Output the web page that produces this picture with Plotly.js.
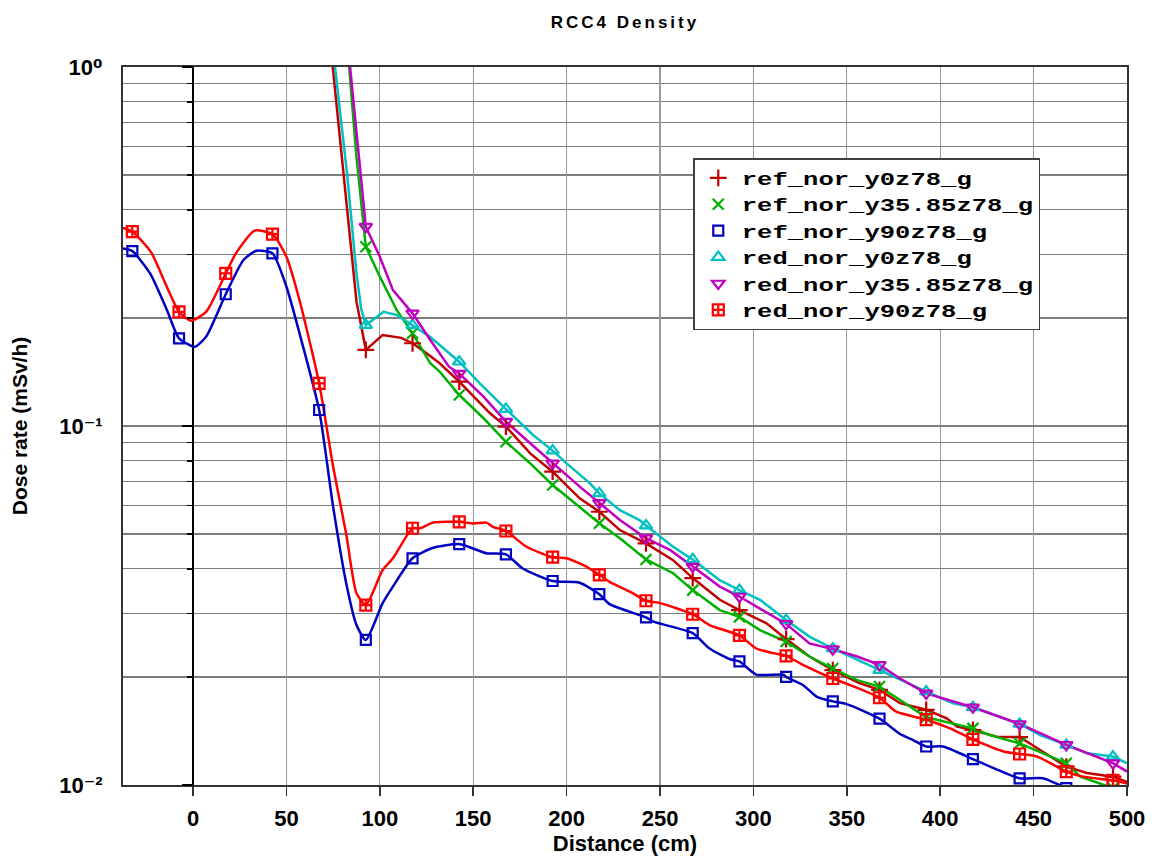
<!DOCTYPE html>
<html><head><meta charset="utf-8">
<script src="https://cdn.plot.ly/plotly-3.0.1.min.js"></script>
<style>
html,body{margin:0;padding:0;background:#fff;}
#chart{width:1155px;height:863px;}
.legendtext{transform-box:fill-box;transform-origin:0 50%;transform:scaleX(1.42);}
.gtitle{letter-spacing:3px;}
</style></head><body><div id="chart"></div>
<script>
// ---- data (Distance in cm, Dose rate in mSv/h) ----
const seriesNames = ['ref_nor_y0z78_g','ref_nor_y35.85z78_g','ref_nor_y90z78_g','red_nor_y0z78_g','red_nor_y35.85z78_g','red_nor_y90z78_g'];

const refY0X = [72.5,77.5,82.5,87.5,92.5,101.5,111.5,117.5,125,132,142.5,159,167.5,180.5,192.5,207,217.5,228.5,242.5,257,267.5,282,292.5,307,317.5,330,342.5,357,367.5,378.5,392.5,403.5,409,417.5,430,442.5,453.5,467.5,478.5,492.5,500];
const refY0Y = [1.31,0.728,0.40,0.222,0.163,0.1793,0.176,0.170,0.1594,0.1495,0.1329,0.1085,0.0996,0.0839,0.0746,0.0629,0.0577,0.0513,0.0471,0.0423,0.0377,0.0328,0.0307,0.0282,0.0255,0.0228,0.0209,0.0192,0.0184,0.0169,0.0162,0.01534,0.01454,0.01423,0.01363,0.0136,0.01252,0.01125,0.0108,0.01055,0.0102];

const refY35X = [82.5,87.5,92.5,100,109,117.5,127,132,142.5,155.5,167.5,180.5,192.5,207,217.5,228.5,242.5,257,267.5,282,292.5,303.5,317.5,330,342.5,355.5,367.5,378.5,392.5,417.5,426.5,442.5,467.5,475,487.5,492.5,500];
const refY35Y = [1.17,0.56,0.3157,0.2606,0.2105,0.1812,0.1495,0.1417,0.122,0.1051,0.0904,0.0787,0.0685,0.0596,0.0536,0.0487,0.0425,0.0389,0.0349,0.0307,0.0294,0.027,0.0251,0.0228,0.0211,0.0196,0.0188,0.01725,0.01544,0.01438,0.01378,0.01306,0.0115,0.01055,0.0100,0.0098,0.0095];

const refY90X = [-37.5,-32.5,-23,-14,-7.5,1,7,17.5,27,34,42.5,50,57,67.5,75,82,87.5,92.5,101.5,107,117.5,128.5,142.5,157,167.5,176.5,192.5,207,217.5,223,242.5,246.5,267.5,276.5,287.5,292.5,301.5,316,317.5,326.5,334,342.5,350,367.5,378.5,385.5,392.5,401.5,417.5,430,442.5,455,462,467.5,480,492.5,500];
const refY90Y = [0.312,0.307,0.266,0.2105,0.1755,0.1663,0.1774,0.2328,0.29,0.3078,0.3027,0.2443,0.1812,0.1108,0.0596,0.0365,0.0279,0.02535,0.0321,0.0357,0.0428,0.0458,0.0469,0.0442,0.0439,0.0401,0.037,0.0366,0.034,0.0319,0.0293,0.0285,0.0265,0.024,0.0224,0.0221,0.0203,0.0203,0.0200,0.019,0.0176,0.0171,0.0168,0.0153,0.01387,0.01334,0.0128,0.0128,0.0118,0.01106,0.01044,0.01044,0.0101,0.0098,0.0093,0.009,0.0088];

const redY0X = [72.5,77.5,82.5,87.5,90,92.5,102,109,117.5,127,142.5,150,153.5,167.5,182,192.5,200,212.5,217.5,228.5,239,242.5,257,267.5,282,292.5,303.5,317.5,330,342.5,367.5,378.5,392.5,407,417.5,442.5,453.5,467.5,478.5,492.5,500];
const redY0Y = [1.45,0.855,0.502,0.266,0.212,0.191,0.208,0.2038,0.191,0.177,0.151,0.1372,0.1315,0.1115,0.0944,0.0854,0.0787,0.0692,0.0649,0.0583,0.0547,0.0528,0.0461,0.0425,0.0372,0.0349,0.0328,0.0288,0.0259,0.024,0.0209,0.0196,0.0182,0.0169,0.01646,0.01479,0.01378,0.01293,0.01226,0.0120,0.0115];

const redY35X = [82.5,87.5,92.5,100,107,117.5,127,137,142.5,155.5,167.5,180.5,192.5,207,217.5,228.5,242.5,255.5,267.5,282,292.5,301.5,317.5,330,342.5,355.5,367.5,378.5,392.5,417.5,442.5,467.5,480,492.5,500];
const redY35Y = [1.21,0.66,0.359,0.296,0.239,0.206,0.1736,0.1463,0.140,0.1207,0.1028,0.0895,0.0787,0.0678,0.0611,0.0547,0.0487,0.0451,0.0406,0.0357,0.0335,0.0314,0.0281,0.0248,0.0239,0.0228,0.0216,0.0198,0.018,0.01646,0.01479,0.01293,0.0122,0.0115,0.0109];

const redY90X = [-37.5,-32.5,-22.5,-14,-7.5,-1,7,17.5,23,33,42.5,50,57,67.5,75,82,87.5,92.5,101.5,107,117.5,121.5,128.5,142.5,150,157,160.5,167.5,178.5,192.5,200,210.5,217.5,223,235.5,242.5,250,267.5,276.5,292.5,301.5,310.5,317.5,326.5,342.5,351.5,367.5,376.5,392.5,405,417.5,434,442.5,452,467.5,476.5,492.5,500];
const redY90Y = [0.356,0.348,0.305,0.244,0.208,0.1965,0.208,0.266,0.303,0.35,0.3425,0.296,0.224,0.1315,0.077,0.050,0.0342,0.0317,0.0397,0.0428,0.0519,0.0519,0.0538,0.0541,0.0535,0.0538,0.0524,0.051,0.0461,0.0431,0.0428,0.0406,0.0385,0.0368,0.0342,0.0326,0.0321,0.0299,0.0279,0.0261,0.024,0.0233,0.0229,0.0216,0.0198,0.019,0.0175,0.016,0.0152,0.0144,0.0134,0.0124,0.0122,0.012,0.0109,0.01055,0.0103,0.0101];

const xTickVals = [0,50,100,150,200,250,300,350,400,450,500];
const yTickVals = [0.01,0.1,1];
const yTickText = ['10\u207B\u00B2','10\u207B\u00B9','10\u2070'];
const yMinorVals = [0.02,0.03,0.04,0.05,0.06,0.07,0.08,0.09,0.2,0.3,0.4,0.5,0.6,0.7,0.8,0.9];

// ---- styles ----
const xs = [refY0X, refY35X, refY90X, redY0X, redY35X, redY90X];
const ys = [refY0Y, refY35Y, refY90Y, redY0Y, redY35Y, redY90Y];
const colors = ['#c00000','#00b000','#0000c0','#00c0c0','#c000c0','#ff0000'];
const symbols = ['cross-thin-open','x-thin-open','square-open','triangle-up-open','triangle-down-open','square-cross-open'];
const msizes = [12,11,10,11,11,11];
const lshapes = ['linear','linear','spline','linear','linear','spline'];

const isMarkerX = x => Math.abs((((x + 32.5) % 25) + 25) % 25) < 1e-6;

const traces = [];
for (let i = 0; i < 6; i++) {
  traces.push({
    x: xs[i], y: ys[i], mode: 'lines', type: 'scatter',
    line: {color: colors[i], width: 2.5, shape: lshapes[i], smoothing: 0.6},
    showlegend: false, hoverinfo: 'skip', cliponaxis: true
  });
}
for (let i = 0; i < 6; i++) {
  const mx = [], my = [];
  xs[i].forEach((x, k) => { if (isMarkerX(x)) { mx.push(x); my.push(ys[i][k]); } });
  traces.push({
    x: mx, y: my, mode: 'markers', type: 'scatter', name: seriesNames[i],
    marker: {symbol: symbols[i], size: msizes[i], color: colors[i], line: {color: colors[i], width: 2.2}},
    cliponaxis: true
  });
}
traces.push({x: [0], y: [null], yaxis: 'y2', mode: 'lines', showlegend: false, hoverinfo: 'skip'});

const axFont = {family: 'Liberation Sans, Arial, DejaVu Sans, sans-serif', size: 22, color: '#000', weight: 'bold'};

const layout = {
  width: 1155, height: 863,
  paper_bgcolor: '#fff', plot_bgcolor: '#fff',
  margin: {l: 123, r: 28, t: 67, b: 78},
  title: {text: 'RCC4 Density', font: {family: 'Liberation Sans, Arial, sans-serif', size: 17, color: '#000', weight: 'bold'},
          x: 0.5, xref: 'paper', xanchor: 'center', y: 0.974, yref: 'container', yanchor: 'middle'},
  xaxis: {
    range: [-37.5, 500], tickmode: 'array', tickvals: xTickVals,
    ticks: 'outside', ticklen: 9, tickwidth: 1.5, tickcolor: '#333',
    showgrid: true, gridcolor: '#9a9a9a', gridwidth: 1.2,
    zeroline: true, zerolinecolor: '#000', zerolinewidth: 1.5,
    showline: true, mirror: true, linecolor: '#333', linewidth: 2,
    tickfont: axFont, ticklabelstandoff: 4,
    title: {text: 'Distance (cm)', font: {family: 'Liberation Sans, Arial, sans-serif', size: 22, color: '#000', weight: 'bold'}, standoff: 4}
  },
  yaxis: {
    type: 'log', range: [-2, 0], tickmode: 'array', tickvals: yTickVals, ticktext: yTickText,
    ticks: '', showgrid: true, gridcolor: '#7d7d7d', gridwidth: 1.2,
    minor: {tickmode: 'array', tickvals: yMinorVals, showgrid: true, gridcolor: '#7d7d7d', gridwidth: 1.2, ticks: ''},
    zeroline: false, showline: true, mirror: true, linecolor: '#333', linewidth: 2,
    tickfont: axFont, ticklabelstandoff: 14,
    title: {text: 'Dose rate (mSv/h)', font: {family: 'Liberation Sans, Arial, sans-serif', size: 21, color: '#000', weight: 'bold'}, standoff: 26}
  },
  yaxis2: {
    type: 'log', range: [-2, 0], overlaying: 'y', anchor: 'free', position: 0.06977, side: 'left',
    tickmode: 'array', tickvals: yTickVals, ticks: 'outside', ticklen: 11, tickwidth: 1.5, tickcolor: '#000',
    minor: {tickmode: 'array', tickvals: yMinorVals, ticks: 'outside', ticklen: 6, tickwidth: 1.5, tickcolor: '#000', showgrid: false},
    showticklabels: false, showgrid: false, zeroline: false, showline: false
  },
  legend: {
    x: 0.568, y: 0.873, xanchor: 'left', yanchor: 'top',
    bgcolor: '#fff', bordercolor: '#404040', borderwidth: 1.5, itemwidth: 37,
    font: {family: 'Liberation Mono, Courier New, monospace', size: 18, color: '#000', weight: 'bold'},
    itemclick: false, itemdoubleclick: false
  },
  showlegend: true
};

Plotly.newPlot('chart', traces, layout, {displayModeBar: false, staticPlot: true});
</script></body></html>
